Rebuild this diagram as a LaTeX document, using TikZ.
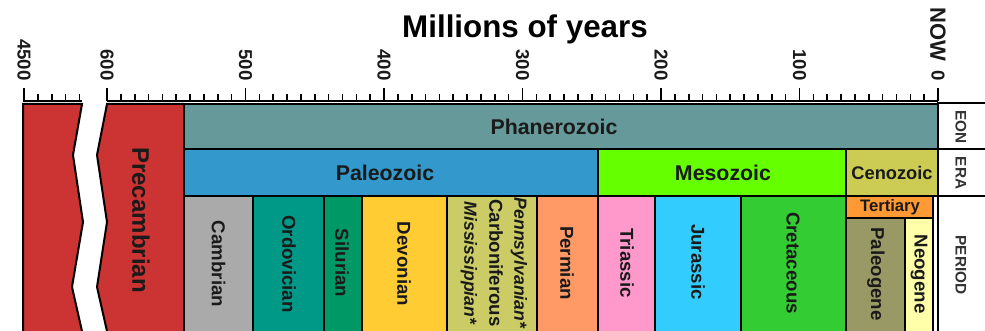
\documentclass[tikz,border=0pt]{standalone}
\usepackage{fontspec}
\setmainfont{Liberation Sans}
\usetikzlibrary{positioning}

\definecolor{textdark}{HTML}{1A1A1A}
\definecolor{precambrian}{HTML}{CC3333}
\definecolor{phanerozoic}{HTML}{669999}
\definecolor{paleozoic}{HTML}{3399CC}
\definecolor{mesozoic}{HTML}{66FF00}
\definecolor{cenozoic}{HTML}{CCCC55}
\definecolor{cambrian}{HTML}{AAAAAA}
\definecolor{ordovician}{HTML}{009988}
\definecolor{silurian}{HTML}{009966}
\definecolor{devonian}{HTML}{FFCC33}
\definecolor{carboniferous}{HTML}{CCCC66}
\definecolor{permian}{HTML}{FF9966}
\definecolor{triassic}{HTML}{FF99CC}
\definecolor{jurassic}{HTML}{33CCFF}
\definecolor{cretaceous}{HTML}{33CC33}
\definecolor{tertiary}{HTML}{FF9933}
\definecolor{paleogene}{HTML}{999966}
\definecolor{neogene}{HTML}{FFFFAA}

\begin{document}
\begin{tikzpicture}[
    x=0.75pt, y=-0.75pt,
    unit/.style={draw=black, line width=1.5pt},
    tick/.style={draw=black, line width=1.2pt},
    ticklabel/.style={rotate=-90, anchor=east, inner sep=0pt, text=textdark, font=\bfseries\fontsize{14}{16}\selectfont},
    eratext/.style={inner sep=0pt, text=textdark, font=\bfseries\fontsize{16}{18}\selectfont},
    periodtext/.style={rotate=-90, inner sep=0pt, text=textdark, font=\bfseries\fontsize{14}{16}\selectfont},
    rowtext/.style={rotate=-90, inner sep=0pt, text=black!80, font=\bfseries\fontsize{11.5}{13}\selectfont}
]
\useasboundingbox (0,0) rectangle (985,331);
\clip (0,0) rectangle (985,331);

% Title
\node[anchor=base, text=black, font=\bfseries\fontsize{23.5}{26}\selectfont] (title) at (525,38) {Millions of years};

% Time axis
\draw[tick] (23,101) -- (82,101);
\foreach \i in {1,...,4}
  \draw[tick] ({24+13.85*\i},94) -- ++(0,7);
\draw[tick] (24,88) -- ++(0,13);
\draw[tick] (107,101) -- (938,101);
\foreach \t in {0,10,...,600}
  \draw[tick] ({938-1.385*\t},94) -- ++(0,7);
\foreach \t in {0,100,...,600}
  \draw[tick] ({938-1.385*\t},88) -- ++(0,13);

\node[ticklabel] (t4500) at (24,81) {4500};
\foreach \t in {600,500,...,100}
  \node[ticklabel] (t\t) at ({938-1.385*\t},81) {\t};
\node[ticklabel] (t0) at (938,81) {0};
\node[ticklabel, font=\bfseries\fontsize{16.5}{18}\selectfont] (now) at (938,62) {NOW};

% Precambrian (broken)
\draw[unit, fill=precambrian] (23,104) -- (82,104) -- (73,155) -- (83,222) -- (72,287) -- (84,340) -- (23,340) -- cycle;
\draw[unit, fill=precambrian] (107,104) -- (184,104) -- (184,340) -- (109,340) -- (97,287) -- (107,222) -- (97,155) -- cycle;
\node[periodtext, font=\bfseries\fontsize{18}{20}\selectfont] (precambrianlbl) at (141,220) {Precambrian};

% Eon
\draw[unit, fill=phanerozoic] (184,104) rectangle (938,149);
\node[eratext] (phanerozoiclbl) at (554,127) {Phanerozoic};

% Eras
\draw[unit, fill=paleozoic] (184,149) rectangle (598,196);
\node[eratext] (paleozoiclbl) at (385,173) {Paleozoic};
\draw[unit, fill=mesozoic] (598,149) rectangle (846,196);
\node[eratext] (mesozoiclbl) at (723,173) {Mesozoic};
\draw[unit, fill=cenozoic] (846,149) rectangle (938,196);
\node[eratext, font=\bfseries\fontsize{13.7}{15}\selectfont] (cenozoiclbl) at (892,173) {Cenozoic};

% Periods
\draw[unit, fill=cambrian] (184,196) rectangle (253,340);
\node[periodtext] (cambrianlbl) at (218.5,264) {Cambrian};
\draw[unit, fill=ordovician] (253,196) rectangle (324,340);
\node[periodtext] (ordovicianlbl) at (289,264) {Ordovician};
\draw[unit, fill=silurian] (324,196) rectangle (362,340);
\node[periodtext] (silurianlbl) at (342,263) {Silurian};
\draw[unit, fill=devonian] (362,196) rectangle (447,340);
\node[periodtext] (devonianlbl) at (404,264) {Devonian};
\draw[unit, fill=carboniferous] (447,196) rectangle (537,340);
\node[periodtext, align=center, font=\bfseries\fontsize{14}{18.75}\selectfont] (carboniferouslbl) at (494,263)
  {{\fontsize{13.2}{18.75}\selectfont\itshape Pennsylvanian*}\\Carboniferous\\{\fontsize{13.2}{18.75}\selectfont\itshape Mississippian*}};
\draw[unit, fill=permian] (537,196) rectangle (598,340);
\node[periodtext] (permianlbl) at (567,263) {Permian};
\draw[unit, fill=triassic] (598,196) rectangle (655,340);
\node[periodtext] (triassiclbl) at (627,263) {Triassic};
\draw[unit, fill=jurassic] (655,196) rectangle (741,340);
\node[periodtext] (jurassiclbl) at (698,262) {Jurassic};
\draw[unit, fill=cretaceous] (741,196) rectangle (846,340);
\node[periodtext] (cretaceouslbl) at (793,263) {Cretaceous};

% Cenozoic periods
\draw[unit, fill=tertiary] (846,196) rectangle (933,218);
\node[inner sep=0pt, text=textdark, font=\bfseries\fontsize{12.5}{14}\selectfont] (tertiarylbl) at (890,207) {Tertiary};
\draw[unit, fill=paleogene] (846,218) rectangle (905,340);
\node[periodtext] (paleogenelbl) at (876,274) {Paleogene};
\draw[unit, fill=neogene] (905,218) rectangle (933,340);
\node[periodtext] (neogenelbl) at (919,274) {Neogene};
\draw[unit, fill=white] (933,196) rectangle (938,340);

% Row labels
\draw[unit, fill=white] (938,103) rectangle (995,149);
\node[rowtext] (eonlbl) at (961,127) {EON};
\draw[unit, fill=white] (938,149) rectangle (995,196);
\node[rowtext] (eralbl) at (961,173) {ERA};
\draw[unit, fill=white] (938,196) rectangle (995,340);
\node[rowtext] (periodlbl) at (961,265) {PERIOD};

\end{tikzpicture}
\end{document}
